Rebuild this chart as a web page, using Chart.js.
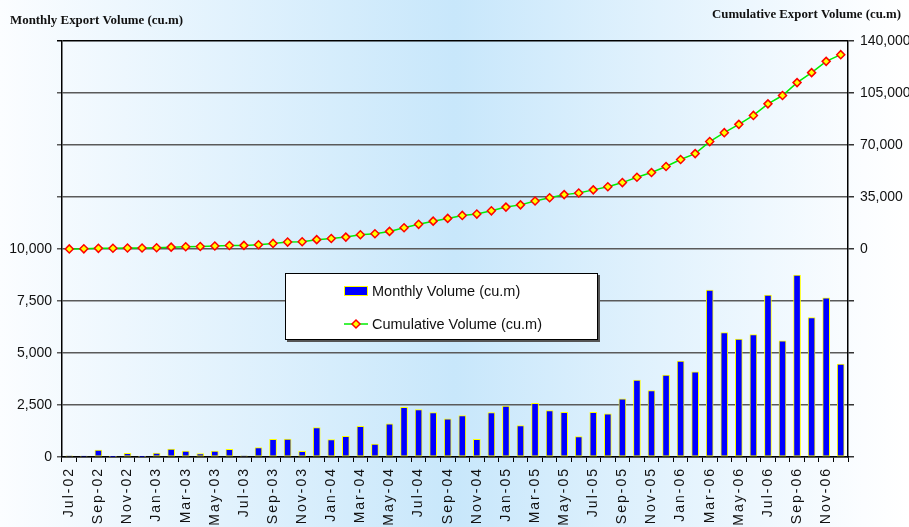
<!DOCTYPE html>
<html>
<head>
	<meta charset="utf-8">
	<script src="https://cdn.jsdelivr.net/npm/chart.js@4.4.1/dist/chart.umd.min.js"></script>
	<style>
		body { margin: 0; background: #fff; }
		#wrap { position: relative; width: 909px; height: 527px; }
	</style>
</head>
<body>
	<div id="wrap">
		<canvas id="export-chart" width="909" height="527"></canvas>
	</div>
	<script>
		// Months Jul-02 .. Dec-06
		const months = [
			'Jul-02', 'Aug-02', 'Sep-02', 'Oct-02', 'Nov-02', 'Dec-02',
			'Jan-03', 'Feb-03', 'Mar-03', 'Apr-03', 'May-03', 'Jun-03',
			'Jul-03', 'Aug-03', 'Sep-03', 'Oct-03', 'Nov-03', 'Dec-03',
			'Jan-04', 'Feb-04', 'Mar-04', 'Apr-04', 'May-04', 'Jun-04',
			'Jul-04', 'Aug-04', 'Sep-04', 'Oct-04', 'Nov-04', 'Dec-04',
			'Jan-05', 'Feb-05', 'Mar-05', 'Apr-05', 'May-05', 'Jun-05',
			'Jul-05', 'Aug-05', 'Sep-05', 'Oct-05', 'Nov-05', 'Dec-05',
			'Jan-06', 'Feb-06', 'Mar-06', 'Apr-06', 'May-06', 'Jun-06',
			'Jul-06', 'Aug-06', 'Sep-06', 'Oct-06', 'Nov-06', 'Dec-06'
		];

		// Monthly export volume (cu.m), left axis
		const monthlyVolume = [
			60, 50, 336, 30, 176, 30,
			190, 385, 290, 160, 290, 370,
			60, 450, 850, 865, 270, 1410,
			833, 990, 1475, 625, 1600, 2390,
			2275, 2130, 1840, 1990, 850, 2130,
			2450, 1505, 2580, 2230, 2150, 980,
			2150, 2080, 2800, 3700, 3190, 3940,
			4615, 4090, 8030, 5980, 5670, 5880,
			7790, 5580, 8750, 6700, 7650, 4470
		];

		// Cumulative export volume (cu.m), right axis
		const cumulativeVolume = [
			60, 110, 450, 480, 650, 680,
			870, 1250, 1550, 1700, 2000, 2370,
			2430, 2900, 3750, 4650, 4900, 6300,
			7100, 8000, 9600, 10250, 11850, 14300,
			16600, 18750, 20600, 22600, 23500, 25700,
			28200, 29700, 32300, 34500, 36600, 37700,
			39800, 41900, 44700, 48300, 51500, 55500,
			60200, 64200, 72300, 78300, 83900, 89900,
			97700, 103300, 112000, 118700, 126300, 130800
		];

		const leftTitle = 'Monthly Export Volume (cu.m)';
		const rightTitle = 'Cumulative Export Volume (cu.m)';
		const barLabel = 'Monthly Volume (cu.m)';
		const lineLabel = 'Cumulative Volume (cu.m)';

		const fmt = v => v.toLocaleString('en-US');

		// light blue band across the middle of the picture
		const background = {
			id: 'background',
			beforeDraw(chart) {
				const c = chart.ctx;
				const g = c.createLinearGradient(0, 0, chart.width, 0);
				g.addColorStop(0, '#fbfdff');
				g.addColorStop(0.5, '#c8e7fb');
				g.addColorStop(0.95, '#fbfdff');
				g.addColorStop(1, '#ffffff');
				c.save();
				c.fillStyle = g;
				c.fillRect(0, 0, chart.width, chart.height);
				c.restore();
			}
		};

		// spaced-out month labels
		const spacedLabels = {
			id: 'spacedLabels',
			afterUpdate(chart) {
				const sx = chart.scales.x;
				if (sx && !sx._spaced) {
					const orig = sx.drawLabels;
					sx.drawLabels = function (area) {
						const c = this.ctx;
						c.save();
						c.letterSpacing = '2px';
						orig.call(this, area);
						c.restore();
					};
					sx._spaced = true;
				}
			}
		};

		function condensedText(c, text, x, y, width, align) {
			c.save();
			c.font = 'bold 13px "Liberation Serif", serif';
			c.textBaseline = 'middle';
			c.fillStyle = '#111';
			const w = c.measureText(text).width;
			const s = width / w;
			const left = align === 'right' ? x - width : x;
			c.translate(left, y);
			c.scale(s, 1);
			c.textAlign = 'left';
			c.fillText(text, 0, 0);
			c.restore();
		}

		// axis titles and the boxed legend
		const annotations = {
			id: 'annotations',
			afterDraw(chart) {
				const c = chart.ctx;
				condensedText(c, leftTitle, 10, 21, 173, 'left');
				condensedText(c, rightTitle, 901, 15, 189, 'right');

				// legend box
				const bx = 285, by = 273, bw = 313, bh = 67;
				c.save();
				c.fillStyle = '#555';
				c.fillRect(bx + 2, by + 2, bw, bh);
				c.fillStyle = '#fff';
				c.fillRect(bx, by, bw, bh);
				c.strokeStyle = '#000';
				c.lineWidth = 1;
				c.strokeRect(bx + 0.5, by + 0.5, bw - 1, bh - 1);

				// bar swatch
				c.fillStyle = '#0000ff';
				c.fillRect(344, 286, 24, 10);
				c.strokeStyle = '#ffff00';
				c.strokeRect(344.5, 286.5, 23, 9);

				// line swatch
				c.strokeStyle = '#00ee00';
				c.lineWidth = 1.5;
				c.beginPath();
				c.moveTo(344, 324);
				c.lineTo(368, 324);
				c.stroke();
				c.beginPath();
				c.moveTo(356, 320);
				c.lineTo(360, 324);
				c.lineTo(356, 328);
				c.lineTo(352, 324);
				c.closePath();
				c.fillStyle = '#ffff00';
				c.fill();
				c.strokeStyle = '#ff0000';
				c.stroke();

				c.fillStyle = '#111';
				c.font = '14.5px "Liberation Sans", Arial, sans-serif';
				c.textBaseline = 'middle';
				c.textAlign = 'left';
				c.fillText(barLabel, 372, 292);
				c.fillText(lineLabel, 372, 325);
				c.restore();
			}
		};

		const tickFont = { family: '"Liberation Sans", Arial, sans-serif', size: 14 };

		new Chart(document.getElementById('export-chart'), {
			type: 'bar',
			data: {
				labels: months,
				datasets: [
					{
						type: 'line',
						label: lineLabel,
						data: cumulativeVolume,
						yAxisID: 'y1',
						borderColor: '#00ee00',
						borderWidth: 1.5,
						pointStyle: 'rectRot',
						pointRadius: 4,
						pointBackgroundColor: '#ffff00',
						pointBorderColor: '#ff0000',
						pointBorderWidth: 1.5,
						tension: 0,
						order: 0
					},
					{
						type: 'bar',
						label: barLabel,
						data: monthlyVolume,
						yAxisID: 'y',
						backgroundColor: '#0000ff',
						borderColor: '#ffff00',
						borderWidth: 1,
						borderSkipped: false,
						barThickness: 7,
						order: 1
					}
				]
			},
			options: {
				responsive: false,
				animation: false,
				layout: { padding: { top: 41, left: 0, right: 0, bottom: 0 } },
				plugins: {
					legend: { display: false },
					tooltip: { enabled: false }
				},
				scales: {
					x: {
						type: 'category',
						offset: true,
						grid: { drawOnChartArea: false, tickLength: 5, color: '#000', offset: true },
						border: { color: '#000', width: 1.5 },
						ticks: {
							autoSkip: false,
							minRotation: 90,
							maxRotation: 90,
							padding: 5,
							color: '#111',
							font: tickFont,
							callback: (v, i) => (i % 2 === 0 ? months[i] : '')
						},
						afterFit: s => { s.height = 70; }
					},
					y: {
						position: 'left',
						min: 0,
						max: 20000,
						grid: {
							tickLength: 5,
							lineWidth: 1.5,
							color: ctx => (ctx.tick && ctx.tick.value === 20000 ? '#000' : '#5a5a5a')
						},
						border: { color: '#000', width: 1.5 },
						ticks: {
							stepSize: 2500,
							padding: 5,
							color: '#111',
							font: tickFont,
							callback: v => (v <= 10000 ? fmt(v) : '')
						},
						afterFit: s => { s.width = 62; }
					},
					y1: {
						position: 'right',
						min: -140000,
						max: 140000,
						grid: { drawOnChartArea: false, tickLength: 6, color: '#333', lineWidth: 1.5 },
						border: { color: '#000', width: 1.5 },
						ticks: {
							stepSize: 35000,
							padding: 6,
							color: '#111',
							font: tickFont,
							callback: v => (v >= 0 ? fmt(v) : '')
						},
						afterFit: s => { s.width = 61; }
					}
				}
			},
			plugins: [background, spacedLabels, annotations]
		});
	</script>
</body>
</html>
